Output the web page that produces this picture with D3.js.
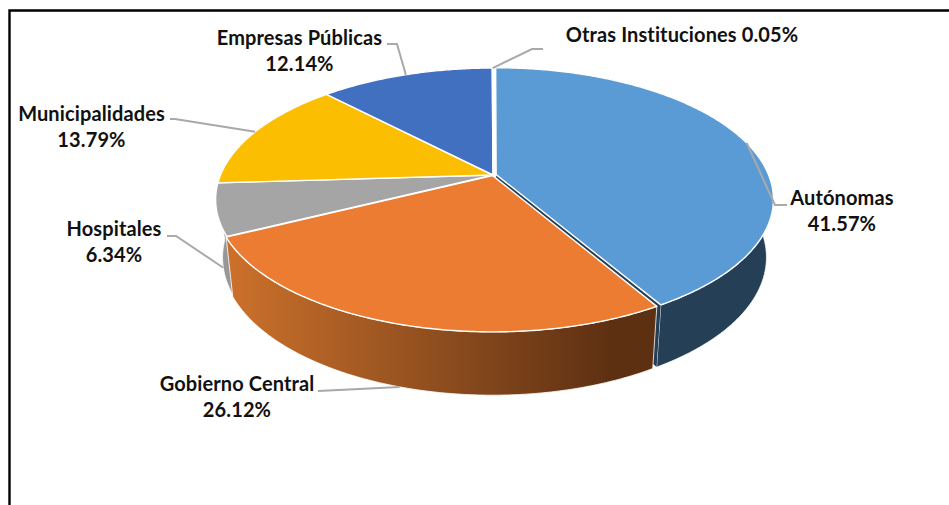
<!DOCTYPE html>
<html lang="es">
<head>
  <meta charset="UTF-8">
  <title>Distribución por institución</title>
  <script src="https://d3js.org/d3.v7.min.js"></script>
  <style>
    html, body { margin: 0; padding: 0; background: #fff; }
    svg { display: block; }
    .label { font-family: Lato, "Open Sans", sans-serif; font-weight: 700; font-size: 20px; letter-spacing: 0.12px; fill: #111; text-anchor: middle; }
    .leader { fill: none; stroke: #a9a9a9; stroke-width: 2px; }
    .top { stroke: #fff; stroke-width: 1.4px; stroke-linejoin: round; }
    .wall { stroke: #fff; stroke-width: 0.8px; stroke-linejoin: round; }
  </style>
</head>
<body>
  <div id="chart"></div>

  <script>
    // ------------------------ Data ------------------------

    const names = ["Autónomas", "Gobierno Central", "Hospitales", "Municipalidades", "Empresas Públicas", "Otras Instituciones"];
    const shares = [41.57, 26.12, 6.34, 13.79, 12.14, 0.05];
    const topColors = ["#5b9bd5", "#eb7c32", "#a5a5a5", "#fcbe00", "#4270c0", "#255e91"];
    const wallColors = ["#243f56", "url(#orangeWall)", "#979797", "#987200", "#284378", "#163857"];

    // label text position and leader elbow for each slice, same order as names
    const labelX = [842, 237, 114, 91.5, 299.5, 682];
    const labelY = [204.5, 391, 236, 120.5, 44.7, 42];
    const leaderStart = [[787, 205], [318, 391], [167, 236], [170, 119], [387, 44], [543, 49]];
    const leaderElbow = [[775, 205], null, [176, 236], [175, 119], [397, 44], [532, 49]];

    // ------------------------ Setup ------------------------

    const width = 949, height = 505;
    const cx = 493;
    const perspective = 0.1863;
    const topDisc = { a: 272.5, b: 126.9, y0: 175 };
    const bottomDisc = { a: 265.7, b: 132, y0: 232 };
    const explode = [0.012, 0.005, 0, 0, 0, 0];

    const svg = d3.select("#chart").append("svg")
      .attr("width", width)
      .attr("height", height);

    const grad = svg.append("defs").append("linearGradient")
      .attr("id", "orangeWall")
      .attr("gradientUnits", "userSpaceOnUse")
      .attr("x1", 232).attr("x2", 652).attr("y1", 0).attr("y2", 0);
    grad.append("stop").attr("offset", "0%").attr("stop-color", "#cb702b");
    grad.append("stop").attr("offset", "50%").attr("stop-color", "#8d4d1e");
    grad.append("stop").attr("offset", "90%").attr("stop-color", "#5e3012");
    grad.append("stop").attr("offset", "100%").attr("stop-color", "#5e3012");

    // project a point on the unit disc (0 = back, clockwise) onto the screen
    function project(disc, angle, r, slice) {
      const mid = (slice.startAngle + slice.endAngle) / 2;
      const e = explode[slice.index];
      const X = r * Math.sin(angle) + e * Math.sin(mid);
      const Y = -r * Math.cos(angle) - e * Math.cos(mid);
      const d = 1 - perspective * Y;
      return [cx + disc.a * X / d, disc.y0 + disc.b * Y / d];
    }

    function arcPoints(disc, slice) {
      const n = Math.max(2, Math.ceil((slice.endAngle - slice.startAngle) / 0.01));
      return d3.range(n + 1).map(i => {
        const t = slice.startAngle + (slice.endAngle - slice.startAngle) * i / n;
        return project(disc, t, 1, slice);
      });
    }

    const line = d3.line();
    const slices = d3.pie().sort(null).startAngle(0).endAngle(2 * Math.PI)(shares);

    function drawWalls(data) {
      svg.selectAll(null)
        .data(data)
        .enter().append("path")
        .attr("class", "wall")
        .attr("fill", d => wallColors[d.index])
        .attr("d", d => line(arcPoints(topDisc, d).concat(arcPoints(bottomDisc, d).reverse())) + "Z");
    }

    // ------------------------ Draw ------------------------

    // walls, back slices first so the front ones overlap them
    drawWalls([5, 4, 3, 2, 0].map(i => slices[i]));

    // cut face showing in the gap of the exploded slice
    const first = slices[0];
    svg.append("path")
      .attr("fill", wallColors[0])
      .attr("d", line([
        project(topDisc, first.endAngle, 0, first),
        project(topDisc, first.endAngle, 1, first),
        project(bottomDisc, first.endAngle, 1, first),
        project(bottomDisc, first.endAngle, 0, first)
      ]) + "Z");

    drawWalls([slices[1]]);

    svg.selectAll(".top")
      .data(slices)
      .enter().append("path")
      .attr("class", "top")
      .attr("fill", d => topColors[d.index])
      .attr("d", d => line([project(topDisc, 0, 0, d)].concat(arcPoints(topDisc, d))) + "Z");

    // leader lines end on the middle of the slice's rim (lower rim on the front side)
    svg.selectAll(".leader")
      .data(slices)
      .enter().append("path")
      .attr("class", "leader")
      .attr("d", d => {
        const mid = (d.startAngle + d.endAngle) / 2;
        const disc = Math.cos(mid) < 0 ? bottomDisc : topDisc;
        const pts = [leaderStart[d.index]];
        if (leaderElbow[d.index]) pts.push(leaderElbow[d.index]);
        pts.push(project(disc, mid, 1, d));
        return line(pts);
      });

    const labels = svg.selectAll(".label")
      .data(slices)
      .enter().append("text")
      .attr("class", "label")
      .attr("x", d => labelX[d.index])
      .attr("y", d => labelY[d.index]);

    labels.append("tspan")
      .text(d => d.index === 5 ? `${names[d.index]} ${shares[d.index].toFixed(2)}%` : names[d.index]);
    labels.filter(d => d.index !== 5).append("tspan")
      .attr("x", d => labelX[d.index])
      .attr("dy", 26.3)
      .text(d => `${shares[d.index].toFixed(2)}%`);

    // frame, only the top and left edges are visible in the crop
    svg.append("path")
      .attr("fill", "none")
      .attr("stroke", "#000")
      .attr("stroke-width", 2.4)
      .attr("d", d3.line()([[9.5, height], [9.5, 10.5], [width, 10.5]]));
  </script>
</body>
</html>
